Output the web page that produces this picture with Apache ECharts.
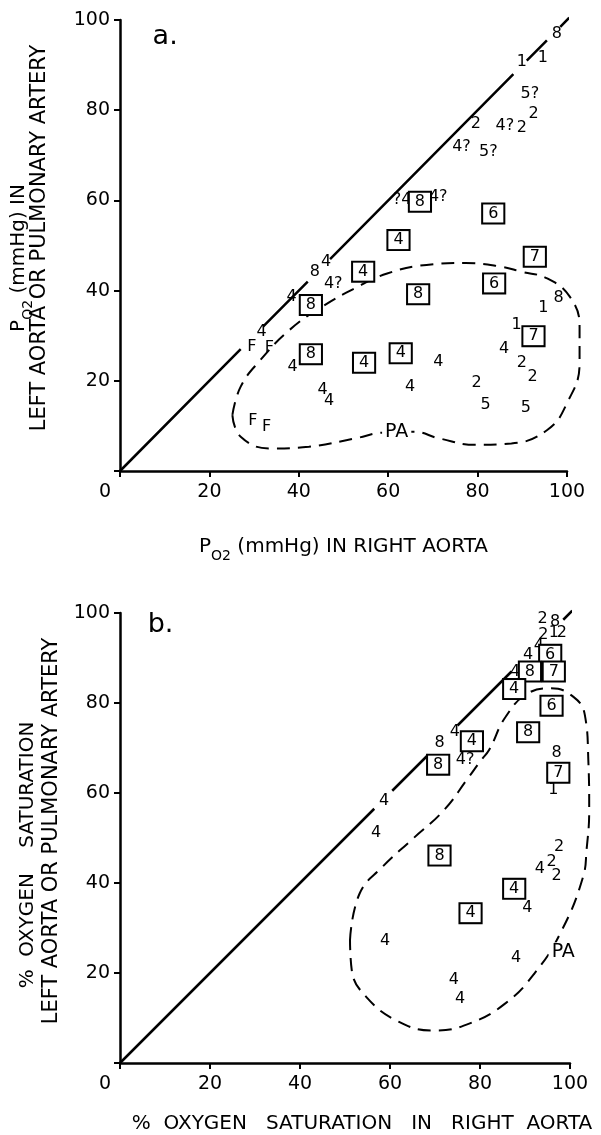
<!DOCTYPE html>
<html>
<head>
<meta charset="utf-8">
<style>
  html, body { margin: 0; padding: 0; background: #fff; }
  #chart { width: 601px; height: 1135px; }
</style>
<script src="https://cdn.jsdelivr.net/npm/echarts@6/dist/echarts.min.js"></script>
</head>
<body>
<div id="chart"></div>
<script>
// ---------- Panel a: PO2 ----------
const aPlainX = [97.7, 89.9, 94.6, 91.7, 92.5, 86.1, 89.9, 79.6, 76.4, 82.4, 63.1, 71.2, 43.6, 46.1, 47.7, 38.4, 98.1, 94.7, 31.7, 29.5, 33.4, 88.7, 38.6, 71.2, 85.9, 89.9, 92.3, 79.8, 45.3, 46.8, 64.9, 81.8, 90.8, 29.7, 32.8];
const aPlainY = [97.0, 90.8, 91.5, 83.7, 79.3, 76.5, 76.0, 76.9, 71.9, 70.8, 60.1, 60.8, 44.2, 46.4, 41.6, 38.6, 38.3, 36.1, 30.9, 27.6, 27.2, 32.4, 23.1, 24.2, 27.1, 23.9, 20.9, 19.6, 18.0, 15.6, 18.7, 14.6, 14.0, 11.2, 9.8];
const aPlainText = ['8', '1', '1', '5?', '2', '4?', '2', '2', '4?', '5?', '?4', '4?', '8', '4', '4?', '4', '8', '1', '4', 'F', 'F', '1', '4', '4', '4', '2', '2', '2', '4', '4', '4', '5', '5', 'F', 'F'];

const aBoxX = [67.1, 83.5, 62.3, 92.8, 54.4, 83.7, 66.7, 42.7, 92.5, 42.7, 54.6, 62.8];
const aBoxY = [59.7, 57.1, 51.2, 47.5, 44.2, 41.6, 39.2, 36.8, 29.9, 25.9, 24.0, 26.1];
const aBoxText = ['8', '6', '4', '7', '4', '6', '8', '8', '7', '8', '4', '4'];

const aContourX = [25.7, 27.6, 34.3, 43.2, 53.7, 60.0, 67.1, 73.1, 81.3, 89.5, 97.7, 102.2, 105.1, 105.1, 102.9, 97.7, 91.7, 87.2, 79.0, 70.1, 61.1, 53.7, 46.2, 38.8, 32.1, 27.6, 25.7];
const aContourY = [12.4, 7.6, 5.0, 5.4, 7.2, 8.5, 8.7, 7.2, 5.8, 6.1, 9.1, 15.0, 23.9, 32.0, 38.6, 42.7, 44.2, 45.3, 46.1, 45.7, 43.8, 40.5, 36.4, 31.3, 24.6, 18.7, 12.4];

const aDiagSegments = [[0, 27], [32, 42], [47, 88], [91, 95.5], [98.5, 100.5]];

// ---------- Panel b: % O2 saturation ----------
const bPlainX = [93.9, 96.7, 94.1, 96.4, 98.2, 93.1, 90.7, 87.8, 97.0, 96.3, 74.4, 71.0, 76.7, 58.7, 56.9, 97.6, 95.9, 93.3, 97.0, 90.5, 58.9, 88.0, 74.2, 75.6];
const bPlainY = [98.6, 98.1, 95.1, 95.5, 95.5, 92.7, 90.7, 86.9, 68.9, 60.8, 73.5, 71.1, 67.4, 58.2, 51.2, 48.0, 44.6, 43.2, 41.5, 34.5, 27.1, 23.4, 18.5, 14.2];
const bPlainText = ['2', '8', '2', '1', '2', '4', '4', '4', '8', '1', '4', '8', '4?', '4', '4', '2', '2', '4', '2', '4', '4', '4', '4', '4'];

const bBoxX = [95.6, 91.1, 96.4, 87.6, 95.9, 90.7, 97.4, 78.2, 70.7, 71.0, 87.6, 77.9];
const bBoxY = [90.7, 87.0, 87.0, 83.1, 79.4, 73.5, 64.5, 71.5, 66.3, 46.1, 38.7, 33.3];
const bBoxText = ['6', '8', '7', '4', '6', '8', '7', '4', '8', '8', '4', '4'];

const bContourX = [52.6, 54.8, 60.0, 66.7, 74.1, 79.3, 82.6, 84.4, 88.2, 93.3, 98.5, 103.7, 106.3, 107.1, 107.3, 106.7, 105.9, 100.7, 94.8, 88.2, 80.0, 71.8, 63.7, 56.3, 53.0, 52.6];
const bContourY = [27.5, 37.8, 43.7, 49.7, 56.3, 63.0, 67.4, 69.6, 77.0, 82.2, 83.3, 81.4, 77.4, 67.4, 56.3, 47.5, 41.5, 29.0, 20.1, 13.5, 9.0, 7.4, 9.4, 14.9, 20.8, 27.5];

const bDiagSegments = [[0, 56.5], [60.5, 68.5], [75, 87], [98.5, 100.5]];

// ---------- Annotations ----------
const annotText = ['a.', 'PA', 'b.', 'PA'];
const annotX = [10.1, 61.9, 9.0, 98.5];
const annotY = [96.3, 8.7, 97.3, 24.7];
const annotPanel = [0, 0, 1, 1];

// ---------- helpers ----------
const FONT = 'DejaVu Sans';
const INK = '#000';
function pts(xs, ys, ts) { return xs.map((x, i) => ts ? [x, ys[i], ts[i]] : [x, ys[i]]); }
function diag(segs) {
  const d = [];
  segs.forEach(s => { d.push([s[0], s[0]]); d.push([s[1], s[1]]); d.push(['-', '-']); });
  return d;
}
const subRich = {
  n: { fontFamily: FONT, fontSize: 20, color: INK, lineHeight: 26, verticalAlign: 'top' },
  s: { fontFamily: FONT, fontSize: 14, color: INK, lineHeight: 14, verticalAlign: 'bottom' }
};
function xAxisCfg(idx, name, nameGap, namePad) {
  return {
    gridIndex: idx, type: 'value', min: 0, max: 100, interval: 20,
    axisLine: { lineStyle: { color: INK, width: 2.5 } },
    axisTick: { length: 6, lineStyle: { color: INK, width: 2 } },
    splitLine: { show: false },
    axisLabel: {
      fontFamily: FONT, fontSize: 19, color: INK, margin: 12,
      formatter: v => v === 0 ? '{o|0}' : String(v),
      rich: { o: { fontFamily: FONT, fontSize: 19, color: INK, padding: [0, 30, 0, 0] } }
    },
    name: name, nameLocation: 'middle', nameGap: nameGap,
    nameTextStyle: { fontFamily: FONT, fontSize: 20, color: INK, padding: namePad, rich: subRich }
  };
}
function yAxisCfg(idx) {
  return {
    gridIndex: idx, type: 'value', min: 0, max: 100, interval: 20,
    axisLine: { lineStyle: { color: INK, width: 2.5 } },
    axisTick: { length: 6, lineStyle: { color: INK, width: 2 } },
    splitLine: { show: false },
    axisLabel: {
      fontFamily: FONT, fontSize: 19, color: INK, margin: 10,
      formatter: v => v === 0 ? '' : String(v)
    }
  };
}
function hiddenX(idx) { return { gridIndex: idx, type: 'value', min: 0, max: 110, show: false, splitLine: { show: false } }; }
function hiddenY(idx) { return { gridIndex: idx, type: 'value', min: 0, max: 100, show: false, splitLine: { show: false } }; }
const clearItem = { color: 'rgba(0,0,0,0)', opacity: 1 };
function plainSeries(idx, data) {
  return {
    type: 'scatter', xAxisIndex: idx, yAxisIndex: idx, data: data, symbolSize: 1, silent: true, z: 3,
    itemStyle: clearItem,
    label: { show: true, position: 'inside', formatter: p => p.value[2], fontFamily: FONT, fontSize: 16,
      color: INK, opacity: 1, textBorderWidth: 0 }
  };
}
function boxSeries(idx, data) {
  return {
    type: 'scatter', xAxisIndex: idx, yAxisIndex: idx, data: data, symbolSize: 1, silent: true, z: 4,
    itemStyle: clearItem,
    label: {
      show: true, position: 'inside', formatter: p => p.value[2], fontFamily: FONT, fontSize: 16, color: INK,
      opacity: 1, textBorderWidth: 0,
      borderColor: INK, borderWidth: 2, padding: [2, 5, 0, 5], backgroundColor: '#fff'
    }
  };
}
function lineSeries(idx, data, dashed, smooth) {
  return {
    type: 'line', xAxisIndex: idx, yAxisIndex: idx, data: data, symbol: 'none', clip: false, silent: true,
    smooth: smooth || false, connectNulls: false, z: 1,
    lineStyle: { color: INK, width: dashed ? 2 : 2.5, type: dashed ? [13, 8] : 'solid', opacity: 1 }
  };
}

const annotSeries = [0, 1].map(p => {
  const d = [];
  annotText.forEach((t, i) => {
    if (annotPanel[i] !== p) return;
    const big = t.indexOf('.') >= 0;
    d.push({ value: [annotX[i], annotY[i], t],
      label: big ? { fontSize: 27, backgroundColor: 'transparent' } : {} });
  });
  return {
    type: 'scatter', xAxisIndex: p, yAxisIndex: p, data: d, symbolSize: 1, silent: true, z: 5,
    itemStyle: clearItem,
    label: {
      show: true, position: 'inside', formatter: q => q.value[2], fontFamily: FONT, color: INK,
      opacity: 1, textBorderWidth: 0,
      fontSize: 19, backgroundColor: '#fff', padding: [0, 3]
    }
  };
});

const chart = echarts.init(document.getElementById('chart'), null, { renderer: 'canvas' });
chart.setOption({
  animation: false,
  backgroundColor: '#fff',
  grid: [
    { left: 120, top: 20, width: 447, height: 451 },
    { left: 120, top: 613, width: 450, height: 451 },
    { left: 120, top: 20, width: 447 * 1.1, height: 451 },
    { left: 120, top: 613, width: 450 * 1.1, height: 451 }
  ],
  xAxis: [
    xAxisCfg(0, '{n|P}{s|O2}{n| (mmHg) IN RIGHT AORTA}', 66, [0, 0, 0, 0]),
    xAxisCfg(1, '{n|%  OXYGEN   SATURATION   IN   RIGHT  AORTA}', 51, [0, 0, 0, 34]),
    hiddenX(2), hiddenX(3)
  ],
  yAxis: [yAxisCfg(0), yAxisCfg(1), hiddenY(2), hiddenY(3)],
  graphic: [
    { type: 'text', x: 22, y: 258, rotation: Math.PI / 2, style: {
      text: '{n|P}{s|O2}{n| (mmHg) IN}', align: 'center', verticalAlign: 'middle',
      rich: {
        n: { fontFamily: FONT, fontSize: 20, fill: INK, lineHeight: 26, verticalAlign: 'top' },
        s: { fontFamily: FONT, fontSize: 14, fill: INK, lineHeight: 14, verticalAlign: 'bottom' }
      } } },
    { type: 'text', x: 40, y: 238, rotation: Math.PI / 2, style: {
      text: 'LEFT AORTA OR PULMONARY ARTERY', align: 'center', verticalAlign: 'middle',
      font: '21px "DejaVu Sans"', fill: INK } },
    { type: 'text', x: 28, y: 855, rotation: Math.PI / 2, style: {
      text: '%  OXYGEN    SATURATION', align: 'center', verticalAlign: 'middle',
      font: '20px "DejaVu Sans"', fill: INK } },
    { type: 'text', x: 52, y: 831, rotation: Math.PI / 2, style: {
      text: 'LEFT AORTA OR PULMONARY ARTERY', align: 'center', verticalAlign: 'middle',
      font: '21px "DejaVu Sans"', fill: INK } }
  ],
  series: [
    lineSeries(0, diag(aDiagSegments), false, false),
    lineSeries(2, pts(aContourX, aContourY), true, 0.45),
    plainSeries(0, pts(aPlainX, aPlainY, aPlainText)),
    boxSeries(0, pts(aBoxX, aBoxY, aBoxText)),
    lineSeries(1, diag(bDiagSegments), false, false),
    lineSeries(3, pts(bContourX, bContourY), true, 0.45),
    plainSeries(1, pts(bPlainX, bPlainY, bPlainText)),
    boxSeries(1, pts(bBoxX, bBoxY, bBoxText)),
    annotSeries[0],
    annotSeries[1]
  ]
});
</script>
</body>
</html>
